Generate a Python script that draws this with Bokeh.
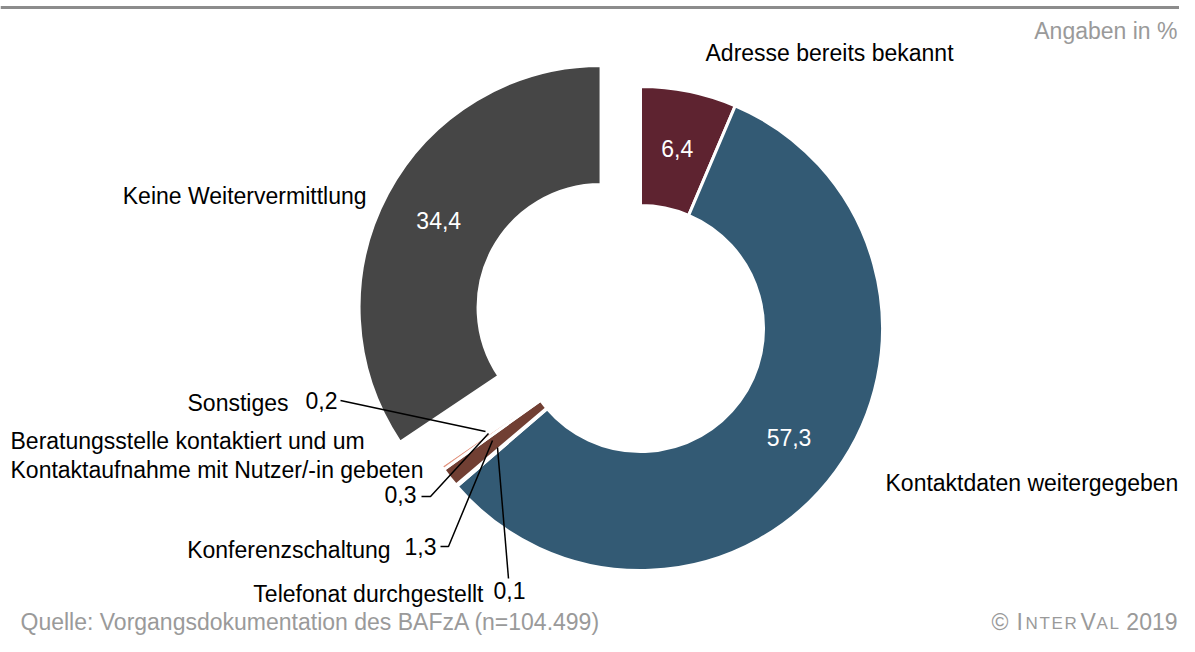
import math
from bokeh.plotting import figure
from bokeh.models import ColumnDataSource, Range1d
from bokeh.core.properties import value
from bokeh.embed import file_html
from bokeh.resources import INLINE

# ---------------- data ----------------
categories = [
    "Adresse bereits bekannt",
    "Kontaktdaten weitergegeben",
    "Telefonat durchgestellt",
    "Konferenzschaltung",
    "Beratungsstelle kontaktiert und um\nKontaktaufnahme mit Nutzer/-in gebeten",
    "Sonstiges",
    "Keine Weitervermittlung",
]
values = [6.4, 57.3, 0.1, 1.3, 0.3, 0.2, 34.4]

# ---------------- style ----------------
colors = ["#5E2330", "#335A74", "#FFFFFF", "#713F33", "#E39580", "#FFFFFF", "#464646"]
explode = [0, 0, 0, 0, 0, 0, 44.7]
FONT = value("Liberation Sans")
FS = "23px"
GREY_TXT = "#9A9A9A"

W, H = 1179, 636
CX, CY = 640.0, 328.0          # donut centre (page pixels)
R_IN, R_OUT = 123.0, 242.0

p = figure(width=W, height=H, x_range=Range1d(0, W), y_range=Range1d(-H, 0),
           output_backend="svg", toolbar_location=None, min_border=0,
           x_axis_location=None, y_axis_location=None)
p.grid.visible = False
p.outline_line_color = None
p.background_fill_color = "white"
p.border_fill_color = "white"

# ---------------- donut ----------------
total = sum(values)
xs, ys, sa, ea, mids = [], [], [], [], []
cum = 0.0
for v, e in zip(values, explode):
    f0 = cum / total
    cum += v
    f1 = cum / total
    tm = math.pi * (f0 + f1)          # mid angle, clockwise from top
    mids.append(tm)
    xs.append(CX + e * math.sin(tm))
    ys.append(-CY + e * math.cos(tm))
    sa.append(math.pi / 2 - 2 * math.pi * f1)
    ea.append(math.pi / 2 - 2 * math.pi * f0)

src = ColumnDataSource(dict(x=xs, y=ys, s=sa, e=ea, c=colors))
p.annular_wedge(x="x", y="y", inner_radius=R_IN, outer_radius=R_OUT,
                start_angle="s", end_angle="e", fill_color="c",
                line_color="white", line_width=3, source=src)

# value labels inside the big slices
big = [i for i, v in enumerate(values) if v >= 5]
rm = (R_IN + R_OUT) / 2 + 1.5
vl = ColumnDataSource(dict(
    x=[xs[i] + rm * math.sin(mids[i]) for i in big],
    y=[ys[i] + rm * math.cos(mids[i]) for i in big],
    t=[f"{values[i]:.1f}".replace(".", ",") for i in big]))
p.text(x="x", y="y", text="t", source=vl, text_color="white", text_font=FONT,
       text_font_size=FS, text_align="center", text_baseline="middle")

# ---------------- category labels ----------------
cat_pos = {  # (x, y, align)
    0: (705, 52, "left"),
    1: (885, 482, "left"),
    2: (483, 593, "right"),
    3: (390, 549, "right"),
    4: (10, 455, "left"),
    5: (288, 402, "right"),
    6: (366, 195, "right"),
}
lx, ly, lt, la = [], [], [], []
for i, (x, y, a) in cat_pos.items():
    lx.append(x); ly.append(-y); lt.append(categories[i]); la.append(a)
cl = ColumnDataSource(dict(x=lx, y=ly, t=lt, a=la))
p.text(x="x", y="y", text="t", text_align="a", source=cl, text_color="black",
       text_font=FONT, text_font_size=FS, text_baseline="middle", text_line_height=1.13)

# small-slice value labels (outside)
small_pos = {2: (493, 590), 3: (404, 546), 4: (384, 494), 5: (305, 400)}
sl = ColumnDataSource(dict(
    x=[small_pos[i][0] for i in small_pos],
    y=[-small_pos[i][1] for i in small_pos],
    t=[f"{values[i]:.1f}".replace(".", ",") for i in small_pos]))
p.text(x="x", y="y", text="t", source=sl, text_color="black", text_font=FONT,
       text_font_size=FS, text_align="left", text_baseline="middle")

# leader lines
leaders = [
    ([340, 485], [400, 431]),
    ([421, 430, 488], [496, 496, 433]),
    ([440, 448, 492], [546, 546, 440]),
    ([508, 497], [578, 447]),
]
p.multi_line(xs=[l[0] for l in leaders], ys=[[-v for v in l[1]] for l in leaders],
             line_color="black", line_width=1.5)

# ---------------- frame texts ----------------
p.segment(x0=[0], y0=[-7], x1=[W], y1=[-7], line_color="#8C8C8C", line_width=3)
p.text(x=[1177], y=[-30], text=["Angaben in %"], text_color=GREY_TXT, text_font=FONT,
       text_font_size=FS, text_align="right", text_baseline="middle")
p.text(x=[20], y=[-621], text=["Quelle: Vorgangsdokumentation des BAFzA (n=104.499)"],
       text_color=GREY_TXT, text_font=FONT, text_font_size=FS,
       text_align="left", text_baseline="middle")

big_parts = [("©", 991), ("I", 1016), ("V", 1080)]
small_parts = [("N", 1025), ("T", 1039), ("E", 1051), ("R", 1064), ("A", 1096), ("L", 1109)]
p.text(x=[b[1] for b in big_parts], y=[-621] * len(big_parts), text=[b[0] for b in big_parts],
       text_color=GREY_TXT, text_font=FONT, text_font_size=FS,
       text_align="left", text_baseline="middle")
p.text(x=[s[1] for s in small_parts], y=[-622.5] * len(small_parts), text=[s[0] for s in small_parts],
       text_color=GREY_TXT, text_font=FONT, text_font_size="17px",
       text_align="left", text_baseline="middle")
p.text(x=[1177], y=[-621], text=["2019"], text_color=GREY_TXT, text_font=FONT,
       text_font_size=FS, text_align="right", text_baseline="middle")

open("out.html", "w").write(file_html(p, INLINE))
